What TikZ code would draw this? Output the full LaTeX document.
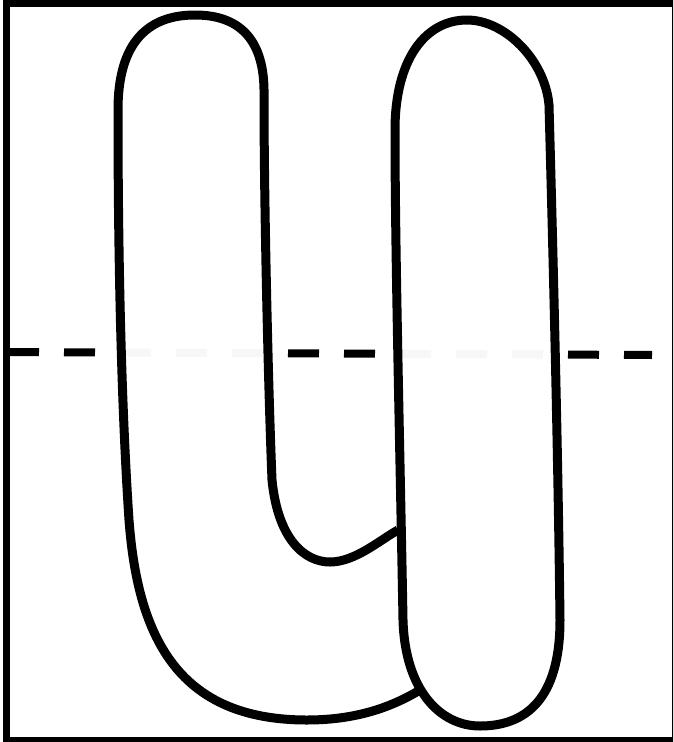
\documentclass[tikz,border=0pt]{standalone}
\usepackage{tikz}
\tikzset{
  frameline/.style={draw=black, line width=7pt},
  cutline/.style={draw=black, line width=8pt, dash pattern=on 31pt off 25pt},
  blob/.style={draw=black, line width=9pt, fill=white, fill opacity=0.97, draw opacity=1}
}

\begin{document}
\begin{tikzpicture}[x=1pt, y=-1pt]
  \useasboundingbox (0,0) rectangle (673,742);
  \clip (0,0) rectangle (673,742);
  % outer frame
  \draw[frameline] (6.5,3.5) rectangle (675.5,740.5);
  % horizontal cut, passes behind the shapes
  \coordinate (cutL) at (8,352);
  \coordinate (cutR) at (652,355);
  \draw[cutline] (cutL) -- (cutR);
  % U-shaped piece
  \coordinate (joinA) at (398,530);
  \coordinate (joinB) at (420,690);
  \draw[blob] (joinA) .. controls (380,540) and (355,562) .. (330,562)
    .. controls (305,562) and (278,540) .. (272,480)
    .. controls (268,380) and (264,200) .. (264,95)
    .. controls (265,40) and (240,15) .. (195,15)
    .. controls (150,15) and (118,40) .. (118,110)
    .. controls (118,250) and (121,400) .. (129,520)
    .. controls (138,640) and (180,720) .. (307,720)
    .. controls (360,720) and (395,705) .. (joinB);
  % elongated loop
  \draw[blob] (467,20) .. controls (505,20) and (545,60) .. (549,105)
    .. controls (553,250) and (558,450) .. (560,620)
    .. controls (560,700) and (525,726) .. (480,726)
    .. controls (440,726) and (405,690) .. (403,620)
    .. controls (400,450) and (395,250) .. (395,130)
    .. controls (395,60) and (425,20) .. cycle;
\end{tikzpicture}
\end{document}
